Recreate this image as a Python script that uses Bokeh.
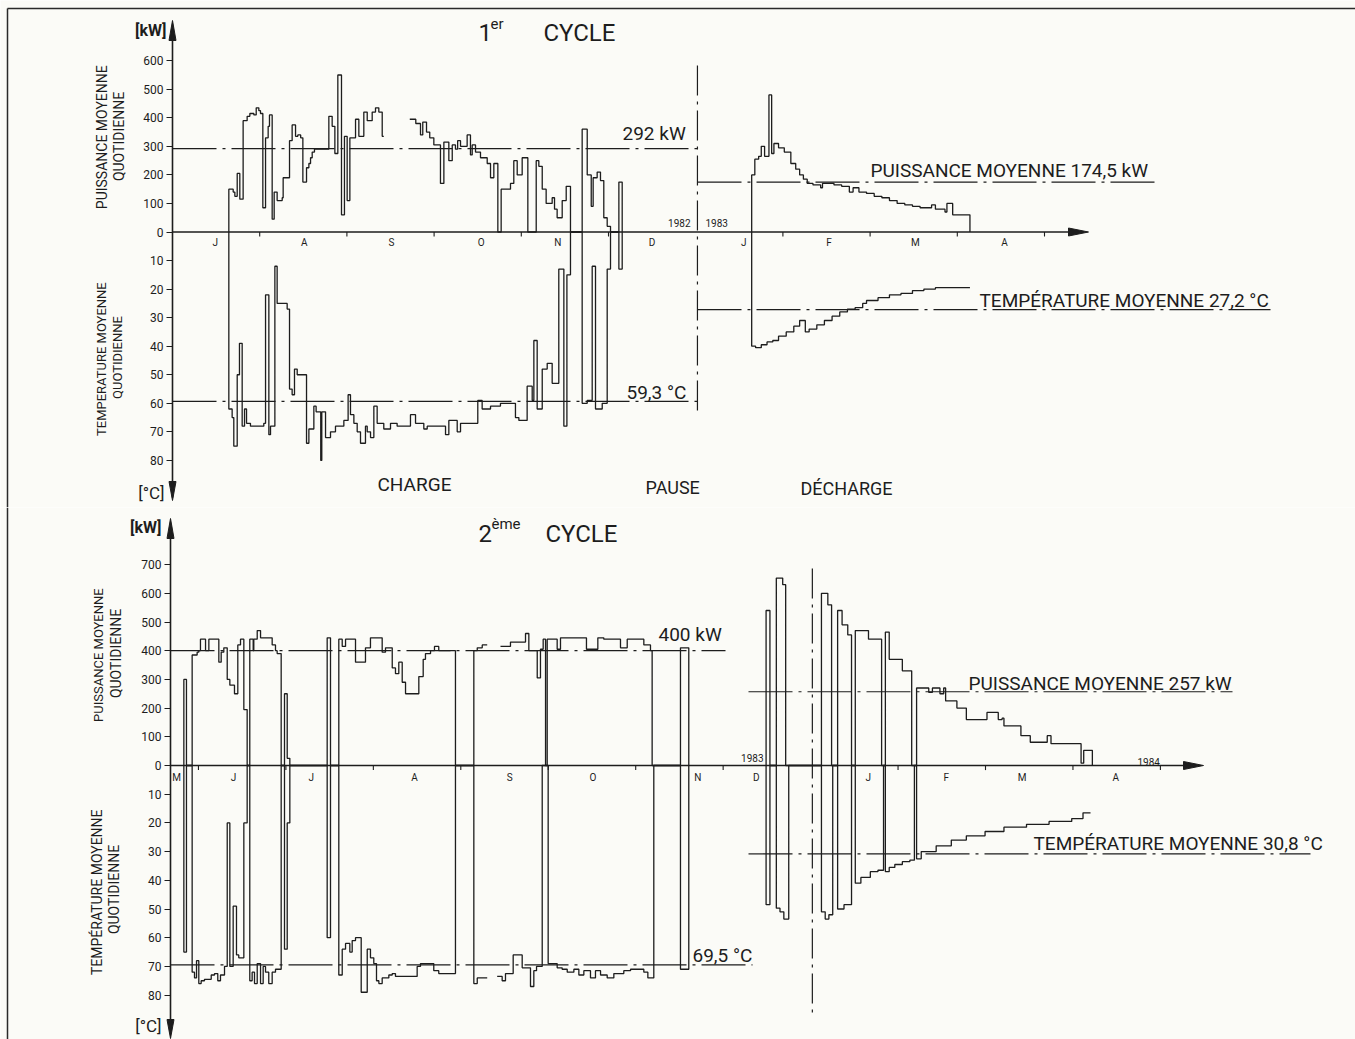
import math
from bokeh.plotting import figure
from bokeh.layouts import column
from bokeh.models import Range1d, FixedTicker, Label, CustomJSTickFormatter
from bokeh.core.properties import value
from bokeh.embed import file_html
from bokeh.resources import INLINE

FONT = "Roboto"
INK = "#1d1d1d"
BG = "#fbfbf7"
nan = float("nan")

# ---------------------------------------------------------------- data
# Cycle 1: x in months counted from 1 July 1982
c1_month_labels = ["J", "A", "S", "O", "N", "D", "J", "F", "M", "A"]
c1_month_label_x = [0.49, 1.51, 2.51, 3.54, 4.42, 5.50, 6.55, 7.53, 8.52, 9.54]
c1_month_ticks = [1, 2, 3, 4, 5, 7, 8, 9, 10]
c1_year_split = 6.02
c1_mean_power_charge = 292.0
c1_mean_temp_charge = 59.3
c1_mean_power_discharge = 174.5
c1_mean_temp_discharge = 27.2

# daily mean power [kW], steps (start month, value)
c1_power_a = [(0.646, 150), (0.696, 140), (0.715, 125), (0.742, 205), (0.772, 115), (0.810, 390),
              (0.856, 405), (0.887, 415), (0.933, 410), (0.960, 435), (0.990, 425), (1.009, 415),
              (1.036, 85), (1.067, 330), (1.097, 370), (1.112, 410), (1.143, 45), (1.166, 140),
              (1.200, 110), (1.258, 120), (1.269, 190), (1.342, 320), (1.372, 375), (1.411, 335),
              (1.437, 340), (1.470, 330), (1.495, 175), (1.537, 225), (1.564, 240), (1.583, 260),
              (1.602, 280), (1.628, 290), (1.793, 405), (1.831, 370), (1.862, 275), (1.896, 550),
              (1.938, 60), (1.972, 335), (2.003, 110), (2.034, 330), (2.099, 395), (2.137, 335),
              (2.194, 420), (2.233, 390), (2.290, 420), (2.328, 435), (2.366, 420), (2.405, 335)]
c1_power_a_end = 2.423
c1_power_b = [(2.721, 395), (2.790, 380), (2.844, 340), (2.870, 385), (2.913, 350), (2.950, 330),
              (2.997, 305), (3.073, 170), (3.112, 315), (3.169, 250), (3.208, 305), (3.245, 290),
              (3.270, 320), (3.303, 300), (3.379, 340), (3.417, 270), (3.437, 305), (3.475, 280),
              (3.532, 260), (3.609, 240), (3.647, 190), (3.685, 240), (3.731, 0), (3.769, 150),
              (3.876, 170), (3.914, 250), (3.953, 200), (4.010, 260), (4.075, 0), (4.171, 250),
              (4.201, 230), (4.240, 150), (4.285, 100), (4.354, 120), (4.381, 80), (4.411, 50),
              (4.469, 110), (4.515, 160), (4.564, 0), (4.698, 360), (4.756, 200), (4.802, 90),
              (4.824, 190), (4.870, 210), (4.908, 180), (4.946, 50), (4.985, 20), (5.023, 0),
              (5.119, 175)]
c1_power_b_end = 5.157
c1_power_c = [(6.642, 200), (6.678, 255), (6.722, 265), (6.752, 300), (6.790, 265), (6.840, 480),
              (6.871, 275), (6.897, 310), (6.950, 295), (7.016, 280), (7.091, 240), (7.147, 220),
              (7.192, 200), (7.235, 185), (7.279, 170), (7.345, 165), (7.433, 155), (7.454, 170),
              (7.586, 165), (7.674, 160), (7.762, 140), (7.805, 155), (7.872, 140), (7.959, 135),
              (8.047, 125), (8.135, 120), (8.222, 110), (8.310, 100), (8.398, 95), (8.486, 90),
              (8.573, 85), (8.705, 95), (8.749, 80), (8.859, 70), (8.881, 100), (8.947, 60)]
c1_power_c_end = 9.145

# daily mean temperature [deg C], steps (start month, value)
c1_temp_a = [(0.646, 62), (0.684, 65), (0.703, 75), (0.742, 50), (0.768, 39), (0.799, 68),
             (0.826, 62), (0.849, 67), (0.894, 68), (1.047, 67), (1.067, 22), (1.105, 71),
             (1.124, 68), (1.174, 12), (1.200, 25), (1.315, 27), (1.342, 55), (1.372, 57),
             (1.399, 48), (1.430, 50), (1.537, 74), (1.564, 69), (1.621, 61), (1.647, 63),
             (1.700, 80), (1.712, 63), (1.755, 72), (1.812, 70), (1.869, 68), (1.965, 66),
             (2.014, 57), (2.041, 64), (2.080, 67), (2.118, 70), (2.156, 74), (2.213, 68),
             (2.233, 70), (2.271, 72), (2.309, 61), (2.347, 67), (2.423, 69), (2.500, 67),
             (2.576, 68), (2.729, 64), (2.787, 67), (2.882, 69), (2.921, 68), (3.131, 71),
             (3.169, 66), (3.265, 70), (3.303, 67), (3.501, 59), (3.551, 62), (3.647, 61),
             (3.761, 60), (3.933, 65), (3.972, 66), (4.067, 54), (4.125, 59), (4.144, 38),
             (4.182, 62), (4.240, 48), (4.297, 46), (4.354, 53), (4.430, 13), (4.488, 68),
             (4.523, 15), (4.564, 0), (4.698, 60), (4.756, 59), (4.813, 12), (4.851, 62),
             (4.928, 60), (4.985, 13), (5.023, 0), (5.119, 13)]
c1_temp_a_end = 5.157
c1_temp_c = [(6.642, 40), (6.687, 40.5), (6.752, 39.5), (6.818, 38.5), (6.884, 38), (6.950, 36.5),
             (7.038, 35), (7.125, 33), (7.192, 31), (7.257, 35), (7.301, 34), (7.389, 32.5),
             (7.476, 31), (7.564, 29.5), (7.652, 28), (7.740, 27), (7.828, 26.5), (7.915, 25),
             (7.959, 24), (8.091, 23), (8.222, 22), (8.354, 21.5), (8.486, 20.5), (8.617, 20),
             (8.749, 19.5)]
c1_temp_c_end = 9.145

# Cycle 2: x in months counted from 1 May 1983
c2_month_labels = ["M", "J", "J", "A", "S", "O", "N", "D", "J", "F", "M", "A"]
c2_month_label_x = [0.75, 1.40, 2.29, 3.47, 4.56, 5.51, 6.71, 7.38, 8.66, 9.55, 10.42, 11.49]
c2_month_ticks = [1, 2, 3, 4, 5, 6, 7, 9, 10, 11, 12]
c2_year_split = 8.02
c2_mean_power_charge = 400.0
c2_mean_temp_charge = 69.5
c2_mean_power_discharge = 257.0
c2_mean_temp_discharge = 30.8

c2_power_a = [(0.833, 300), (0.863, 0), (0.928, 385), (0.985, 395), (1.004, 400), (1.023, 440),
              (1.081, 400), (1.119, 440), (1.233, 360), (1.260, 395), (1.290, 410), (1.329, 300),
              (1.359, 280), (1.412, 250), (1.450, 420), (1.481, 440), (1.519, 195), (1.557, 0),
              (1.587, 440), (1.626, 400), (1.633, 440), (1.672, 470), (1.710, 445), (1.843, 420),
              (1.881, 400), (1.900, 390), (1.946, 0), (1.984, 250), (2.015, 25), (2.045, 0),
              (2.472, 445), (2.510, 0), (2.605, 440), (2.644, 415), (2.682, 440), (2.796, 360),
              (2.910, 410), (2.967, 445), (3.101, 395), (3.139, 410), (3.216, 340), (3.253, 320),
              (3.291, 360), (3.330, 290), (3.368, 250), (3.520, 310), (3.570, 370), (3.596, 390),
              (3.654, 400), (3.699, 415), (3.748, 400), (3.939, 0), (4.149, 400), (4.188, 410),
              (4.245, 420), (4.302, nan), (4.454, 415), (4.568, 430), (4.740, 460), (4.778, 400),
              (4.874, 305), (4.911, 405), (4.942, 440), (4.969, 0), (4.988, 440), (5.102, 405),
              (5.140, 445), (5.437, 405), (5.567, 445), (5.635, 440), (5.826, 410), (5.903, 440),
              (6.093, 420), (6.169, 400), (6.188, 0), (6.512, 410)]
c2_power_a_end = 6.607
c2_power_b = [(7.491, 540), (7.535, 0), (7.608, 653), (7.681, 630), (7.715, 0), (8.124, 600),
              (8.197, 560), (8.240, 0), (8.309, 540), (8.360, 490), (8.425, 455), (8.468, 0),
              (8.511, 470), (8.662, 440), (8.812, 0), (8.855, 465), (8.899, 370), (9.049, 330),
              (9.156, 0), (9.212, 270), (9.351, 255), (9.393, 270), (9.479, 250), (9.522, 270),
              (9.544, 225), (9.673, 200), (9.781, 160), (10.017, 185), (10.146, 160), (10.190, 165),
              (10.211, 138), (10.405, 104), (10.512, 81), (10.706, 104), (10.749, 76), (11.093, 8),
              (11.123, 53)]
c2_power_b_end = 11.222

c2_temp_a = [(0.833, 65), (0.863, 0), (0.928, 72), (0.955, 74), (0.978, 68), (1.004, 76),
             (1.031, 75), (1.069, 74.5), (1.146, 73), (1.184, 72.5), (1.221, 75), (1.252, 73),
             (1.298, 70), (1.329, 20), (1.359, 70), (1.397, 49), (1.435, 66), (1.461, 67),
             (1.519, 20), (1.557, 0), (1.587, 75), (1.614, 72), (1.641, 76), (1.672, 69),
             (1.710, 76), (1.740, 70), (1.767, 72), (1.804, 76), (1.843, 72), (1.881, 71),
             (1.946, 0), (1.984, 64), (2.015, 20), (2.045, 0), (2.472, 60), (2.510, 0),
             (2.605, 73), (2.644, 64), (2.682, 62), (2.731, 65), (2.758, 61), (2.796, 60),
             (2.861, 79), (2.930, 64), (2.967, 67), (3.005, 69), (3.036, 75), (3.063, 76),
             (3.101, 74), (3.177, 73), (3.216, 72.5), (3.253, 73.5), (3.501, 70), (3.539, 69),
             (3.691, 71.5), (3.748, 72.5), (3.939, 0), (4.149, 76), (4.188, 74), (4.302, nan),
             (4.416, 73.5), (4.473, 75), (4.511, 72.5), (4.599, 66), (4.702, 70.5), (4.797, 77),
             (4.835, 71.5), (4.866, 70), (4.931, 0), (4.999, 69), (5.102, 70.5), (5.159, 71),
             (5.217, 72), (5.293, 71), (5.350, 73), (5.407, 71.5), (5.483, 74), (5.540, 71.5),
             (5.598, 73), (5.674, 74), (5.750, 72.5), (5.864, 71.5), (5.941, 71), (6.093, 72),
             (6.139, 74), (6.207, 0), (6.512, 71)]
c2_temp_a_end = 6.607
c2_temp_b = [(7.491, 48.5), (7.535, 0), (7.608, 49.7), (7.650, 51), (7.694, 53.5), (7.750, 0),
             (8.124, 51), (8.167, 53.5), (8.209, 52), (8.253, 0), (8.309, 50), (8.382, 48.5),
             (8.468, 0), (8.511, 41), (8.575, 39), (8.683, 37), (8.770, 36.5), (8.834, 0),
             (8.855, 37), (8.899, 35.5), (8.963, 34.5), (9.049, 33.5), (9.135, 33), (9.187, 0),
             (9.212, 32.5), (9.265, 30), (9.436, 28), (9.609, 26), (9.781, 24.5), (9.995, 23),
             (10.211, 21.5), (10.469, 20.5), (10.727, 19.5), (10.986, 18.5), (11.115, 16.5)]
c2_temp_b_end = 11.201

kw_ticks_1 = [0, 100, 200, 300, 400, 500, 600]
kw_ticks_2 = [0, 100, 200, 300, 400, 500, 600, 700]
temp_ticks = [10, 20, 30, 40, 50, 60, 70, 80]
TEMP_SCALE = 10.0   # 10 kW of drawing height per degree C, temperatures drawn downwards


# ---------------------------------------------------------------- helpers
def stairs(steps, end, start0=True, end0=True, temp=False):
    xs, ys = [], []
    k = -TEMP_SCALE if temp else 1.0
    if start0:
        xs.append(steps[0][0]); ys.append(0.0)
    for i, (x, v) in enumerate(steps):
        x1 = steps[i + 1][0] if i + 1 < len(steps) else end
        xs += [x, x1]
        ys += [v * k, v * k]
    if end0:
        xs.append(end); ys.append(0.0)
    return xs, ys


def make_fig(height, xr, yr, axis_x):
    p = figure(width=1355, height=height, x_range=Range1d(*xr), y_range=Range1d(*yr),
               x_axis_type=None, output_backend="svg", toolbar_location=None,
               min_border_left=0, min_border_right=0, min_border_top=0, min_border_bottom=0,
               background_fill_color=BG, border_fill_color=BG, outline_line_color=None)
    p.grid.visible = False
    p.yaxis[0].fixed_location = axis_x
    return p


def style_axis(p, ticks_kw, bounds):
    ax = p.yaxis[0]
    ax.ticker = FixedTicker(ticks=ticks_kw + [-TEMP_SCALE * t for t in temp_ticks])
    ax.formatter = CustomJSTickFormatter(
        code="return tick < 0 ? String(Math.round(-tick / %g)) : String(tick);" % TEMP_SCALE)
    ax.bounds = bounds
    ax.axis_line_color = INK
    ax.axis_line_width = 1.6
    ax.major_tick_line_color = INK
    ax.major_tick_line_width = 1.2
    ax.major_tick_out = 6
    ax.major_tick_in = 0
    ax.minor_tick_out = 0
    ax.minor_tick_in = 0
    ax.major_label_text_font = FONT
    ax.major_label_text_font_size = "12px"
    ax.major_label_text_color = INK
    ax.major_label_standoff = 3


def lab(p, x, y, text, size, align="left", angle=0.0, bold=False):
    p.add_layout(Label(x=x, y=y, text=text, text_font=FONT, text_font_size="%dpx" % size,
                       text_align=align, text_baseline="middle", angle=angle, text_color=INK,
                       text_font_style="bold" if bold else "normal"))


DASHDOT = "44 6 3 6"
LW = 1.3

# ================================================================ figure 1  (page rows 0..507)
X1 = lambda px: (px - 172.0) / 87.2
Y1 = lambda py: (231.5 - py) / 0.2855
p1 = make_fig(507, (X1(0), X1(1355)), (Y1(507), Y1(0)), 0)
style_axis(p1, kw_ticks_1, (Y1(497), Y1(26)))

# page frame (top and left edge of the sheet)
p1.line([X1(7), X1(1355)], [Y1(8), Y1(8)], line_color="#2a2a2a", line_width=1.5)
p1.line([X1(7), X1(7)], [Y1(8), Y1(507)], line_color="#2a2a2a", line_width=1.5)

# axis arrow heads
p1.patch([0, X1(168.5), X1(175.5)], [Y1(20), Y1(40), Y1(40)], color=INK)
p1.patch([0, X1(168.5), X1(175.5)], [Y1(500), Y1(481), Y1(481)], color=INK)

# zero line with arrow
p1.line([0, X1(1072)], [0, 0], line_color=INK, line_width=1.6)
p1.patch([X1(1088), X1(1068), X1(1068)], [0, Y1(227.5), Y1(235.5)], color=INK)
p1.segment(x0=c1_month_ticks, y0=[0] * len(c1_month_ticks), x1=c1_month_ticks,
           y1=[-16] * len(c1_month_ticks), line_color=INK, line_width=1.1)
p1.text(x=c1_month_label_x, y=[Y1(242)] * len(c1_month_label_x), text=c1_month_labels,
        text_font=value(FONT), text_font_size="10px", text_align="center",
        text_baseline="middle", text_color=INK)

# mean lines
p1.line([0, X1(697)], [c1_mean_power_charge] * 2, line_color=INK, line_width=1.2, line_dash=DASHDOT)
p1.line([0, X1(697)], [-TEMP_SCALE * c1_mean_temp_charge] * 2, line_color=INK, line_width=1.2, line_dash=DASHDOT)
p1.line([X1(697), X1(1155)], [c1_mean_power_discharge] * 2, line_color=INK, line_width=1.2, line_dash=DASHDOT)
p1.line([X1(697), X1(1270)], [-TEMP_SCALE * c1_mean_temp_discharge] * 2, line_color=INK, line_width=1.2, line_dash=DASHDOT)
p1.line([c1_year_split] * 2, [Y1(65), Y1(416)], line_color=INK, line_width=1.2, line_dash="30 6 3 6")

# traces
for steps, end, s0, e0, t in [(c1_power_a, c1_power_a_end, True, False, False),
                              (c1_power_b, c1_power_b_end, False, True, False),
                              (c1_power_c, c1_power_c_end, True, True, False),
                              (c1_temp_a, c1_temp_a_end, True, True, True),
                              (c1_temp_c, c1_temp_c_end, True, False, True)]:
    xs, ys = stairs(steps, end, s0, e0, t)
    p1.line(xs, ys, line_color=INK, line_width=LW)

# texts
lab(p1, X1(478), Y1(32), "1", 24)
lab(p1, X1(490), Y1(23), "er", 15)
lab(p1, X1(543), Y1(32), "CYCLE", 24)
lab(p1, X1(622), Y1(133), "292 kW", 19)
lab(p1, X1(626), Y1(392), "59,3 °C", 19)
lab(p1, X1(870), Y1(170), "PUISSANCE  MOYENNE  174,5 kW", 19)
lab(p1, X1(979), Y1(300), "TEMPÉRATURE  MOYENNE  27,2 °C", 19)
lab(p1, X1(377), Y1(484), "CHARGE", 19)
lab(p1, X1(645), Y1(487), "PAUSE", 18)
lab(p1, X1(800), Y1(488), "DÉCHARGE", 18)
lab(p1, X1(690), Y1(222), "1982", 10, align="right")
lab(p1, X1(705), Y1(222), "1983", 10)
lab(p1, X1(166), Y1(30), "[kW]", 16, align="right", bold=True)
lab(p1, X1(164), Y1(492), "[°C]", 17, align="right")
lab(p1, X1(101), Y1(135), "PUISSANCE  MOYENNE", 14, align="center", angle=math.pi / 2)
lab(p1, X1(118), Y1(136), "QUOTIDIENNE", 14, align="center", angle=math.pi / 2)
lab(p1, X1(101), Y1(357), "TEMPERATURE  MOYENNE", 13, align="center", angle=math.pi / 2)
lab(p1, X1(117), Y1(357), "QUOTIDIENNE", 13, align="center", angle=math.pi / 2)

# ================================================================ figure 2  (page rows 507..1039)
X2 = lambda px: (px - 110.5) / 87.45
Y2 = lambda py: (765.0 - py) / 0.287
p2 = make_fig(532, (X2(0), X2(1355)), (Y2(1039), Y2(507)), X2(170))
style_axis(p2, kw_ticks_2, (Y2(1033), Y2(524)))

p2.line([X2(7), X2(7)], [Y2(507), Y2(1039)], line_color="#2a2a2a", line_width=1.5)

p2.patch([X2(170), X2(166.5), X2(173.5)], [Y2(518), Y2(538), Y2(538)], color=INK)
p2.patch([X2(170), X2(166.5), X2(173.5)], [Y2(1038), Y2(1019), Y2(1019)], color=INK)

p2.line([X2(170), X2(1187)], [0, 0], line_color=INK, line_width=1.6)
p2.patch([X2(1203), X2(1183), X2(1183)], [0, Y2(761), Y2(769)], color=INK)
p2.segment(x0=c2_month_ticks, y0=[0] * len(c2_month_ticks), x1=c2_month_ticks,
           y1=[-16] * len(c2_month_ticks), line_color=INK, line_width=1.1)
p2.text(x=c2_month_label_x, y=[Y2(777)] * len(c2_month_label_x), text=c2_month_labels,
        text_font=value(FONT), text_font_size="10px", text_align="center",
        text_baseline="middle", text_color=INK)

p2.line([X2(170), X2(725)], [c2_mean_power_charge] * 2, line_color=INK, line_width=1.2, line_dash=DASHDOT)
p2.line([X2(170), X2(752)], [-TEMP_SCALE * c2_mean_temp_charge] * 2, line_color=INK, line_width=1.2, line_dash=DASHDOT)
p2.line([X2(748), X2(1232)], [c2_mean_power_discharge] * 2, line_color=INK, line_width=1.2, line_dash=DASHDOT)
p2.line([X2(748), X2(1310)], [-TEMP_SCALE * c2_mean_temp_discharge] * 2, line_color=INK, line_width=1.2, line_dash=DASHDOT)
p2.line([c2_year_split] * 2, [Y2(568), Y2(1012)], line_color=INK, line_width=1.2, line_dash="30 6 3 6")

for steps, end, s0, e0, t in [(c2_power_a, c2_power_a_end, True, True, False),
                              (c2_power_b, c2_power_b_end, True, True, False),
                              (c2_temp_a, c2_temp_a_end, True, True, True),
                              (c2_temp_b, c2_temp_b_end, True, False, True)]:
    xs, ys = stairs(steps, end, s0, e0, t)
    p2.line(xs, ys, line_color=INK, line_width=LW)

lab(p2, X2(478), Y2(533), "2", 24)
lab(p2, X2(491), Y2(523), "ème", 15)
lab(p2, X2(545), Y2(533), "CYCLE", 24)
lab(p2, X2(658), Y2(634), "400 kW", 19)
lab(p2, X2(692), Y2(955), "69,5 °C", 19)
lab(p2, X2(968), Y2(683), "PUISSANCE  MOYENNE  257 kW", 19)
lab(p2, X2(1033), Y2(843), "TEMPÉRATURE  MOYENNE  30,8 °C", 19)
lab(p2, X2(763), Y2(757), "1983", 10, align="right")
lab(p2, X2(1137), Y2(761), "1984", 10)
lab(p2, X2(161), Y2(527), "[kW]", 16, align="right", bold=True)
lab(p2, X2(161), Y2(1025), "[°C]", 17, align="right")
lab(p2, X2(98), Y2(653), "PUISSANCE  MOYENNE", 13, align="center", angle=math.pi / 2)
lab(p2, X2(115), Y2(653), "QUOTIDIENNE", 14, align="center", angle=math.pi / 2)
lab(p2, X2(96), Y2(890), "TEMPÉRATURE  MOYENNE", 14, align="center", angle=math.pi / 2)
lab(p2, X2(113), Y2(889), "QUOTIDIENNE", 14, align="center", angle=math.pi / 2)

layout = column(p1, p2, spacing=0)
open("out.html", "w").write(file_html(layout, INLINE))
